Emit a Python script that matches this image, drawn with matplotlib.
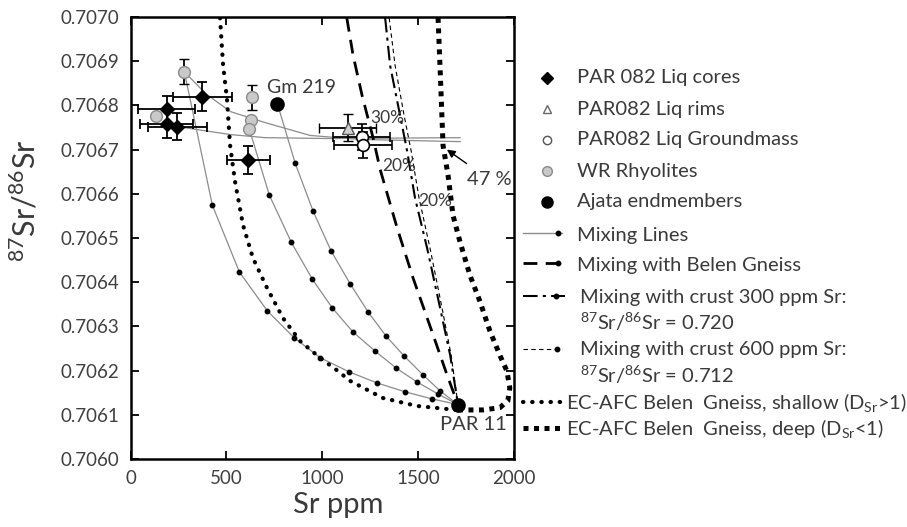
import matplotlib.pyplot as plt
from matplotlib.lines import Line2D

plt.rcParams['font.family'] = ['Lato', 'DejaVu Sans']
plt.rcParams['mathtext.default'] = 'regular'

# ---- data ----
# PAR 082 liquid cores (black diamonds)
cores_x = [375, 188, 188, 245, 615]
cores_y = [0.706820, 0.706791, 0.706757, 0.706752, 0.706676]
cores_xerr = [154, 150, 140, 153, 112]
cores_yerr = [0.000032, 0.000030, 0.000030, 0.000030, 0.000032]

# PAR082 liquid rims (triangle)
rims_x = [1132]
rims_y = [0.706750]
rims_xerr = [148]
rims_yerr = [0.000030]

# PAR082 groundmass (open circles)
gm_x = [1205, 1212]
gm_y = [0.706728, 0.706710]
gm_xerr = [150, 150]
gm_yerr = [0.000030, 0.000030]

# whole rock rhyolites (grey circles)
wr_x = [281, 135, 635, 630, 620]
wr_y = [0.706876, 0.706775, 0.706818, 0.706766, 0.706746]
wr_yerr = [0.000028, 0, 0.000028, 0, 0]

# Ajata endmembers: Gm 219 and PAR 11
aj_x = [766, 1708]
aj_y = [0.706804, 0.706123]

# mixing lines towards PAR 11 (dotted increments)
mix1_x = [281, 427, 568, 714, 854, 990, 1141, 1286, 1432, 1573, 1708]
mix1_y = [0.706876, 0.706574, 0.706423, 0.706335, 0.706274, 0.706229,
          0.706197, 0.706172, 0.706152, 0.706136, 0.706123]
mix2_x = [620, 724, 839, 948, 1052, 1161, 1276, 1385, 1495, 1604, 1708]
mix2_y = [0.706746, 0.706597, 0.706490, 0.706407, 0.706342, 0.706287,
          0.706244, 0.706206, 0.706174, 0.706147, 0.706123]
mix3_x = [766, 859, 953, 1047, 1146, 1240, 1333, 1427, 1526, 1615, 1708]
mix3_y = [0.706804, 0.706669, 0.706560, 0.706470, 0.706396, 0.706332,
          0.706278, 0.706233, 0.706190, 0.706154, 0.706123]

# near-flat mixing lines to the 47 % point
mixA_x = [281, 391, 521, 703, 937, 1198, 1719]
mixA_y = [0.706876, 0.706827, 0.706786, 0.706761, 0.706732, 0.706723, 0.706718]
mixB_x = [245, 521, 703, 1042, 1719]
mixB_y = [0.706752, 0.706734, 0.706727, 0.706725, 0.706727]

# mixing with Belen Gneiss
belen_x = [1128, 1161, 1208, 1266, 1302, 1391, 1474, 1578, 1651, 1708]
belen_y = [0.706998, 0.706913, 0.706822, 0.706725, 0.706655, 0.706522,
           0.706409, 0.706281, 0.706190, 0.706123]

# mixing with crust 300 ppm Sr
c300_x = [1328, 1354, 1406, 1443, 1484, 1547, 1615, 1667, 1708]
c300_y = [0.706998, 0.706890, 0.706777, 0.706696, 0.706590, 0.706477,
          0.706341, 0.706235, 0.706123]

# mixing with crust 600 ppm Sr
c600_x = [1349, 1380, 1427, 1464, 1505, 1562, 1625, 1672, 1708]
c600_y = [0.706998, 0.706890, 0.706777, 0.706696, 0.706590, 0.706477,
          0.706341, 0.706235, 0.706123]

# EC-AFC Belen Gneiss, shallow
shal_x = [467, 483, 503, 519, 545, 587, 639, 712, 795, 884, 988, 1082,
          1144, 1316, 1493, 1701]
shal_y = [0.706998, 0.706890, 0.706815, 0.706711, 0.706628, 0.706529,
          0.706454, 0.706387, 0.706319, 0.706267, 0.706229, 0.706199,
          0.706177, 0.706138, 0.706120, 0.706111]

# EC-AFC Belen Gneiss, deep
deep_x = [1604, 1614, 1624, 1630, 1656, 1682, 1718, 1770, 1822, 1874, 1926,
          1963, 1978, 1968, 1926, 1838, 1755, 1703]
deep_y = [0.706998, 0.706890, 0.706777, 0.706709, 0.706642, 0.706551,
          0.706492, 0.706416, 0.706357, 0.706290, 0.706235, 0.706199,
          0.706161, 0.706132, 0.706116, 0.706111, 0.706111, 0.706111]

W, H = 907, 527
fig = plt.figure(figsize=(W / 100, H / 100), dpi=100)
ax = fig.add_axes([130.5 / W, 1 - 459 / H, (514 - 130.5) / W, (459 - 17) / H])

txt_col = '#3a3a3a'
grey = '#8c8c8c'

# curves
for mx, my in [(mix1_x, mix1_y), (mix2_x, mix2_y), (mix3_x, mix3_y)]:
    ax.plot(mx, my, color=grey, lw=0.9, zorder=2)
    ax.plot(mx[1:-1], my[1:-1], 'o', color='black', ms=3.2, zorder=3)
ax.plot(mixA_x, mixA_y, color=grey, lw=0.9, zorder=2)
ax.plot(mixB_x, mixB_y, color=grey, lw=0.9, zorder=2)

ax.plot(belen_x, belen_y, color='black', lw=2.0, ls=(0, (5, 3)), zorder=2)
ax.plot(c300_x, c300_y, color='black', lw=1.5, ls=(0, (7, 2.5, 1.5, 2.5)), zorder=2)
ax.plot(c600_x, c600_y, color='black', lw=0.8, ls=(0, (4, 3)), zorder=2)
ax.plot(shal_x, shal_y, color='black', lw=3.0, ls=(0, (0.1, 2.1)),
        dash_capstyle='round', zorder=2)
ax.plot(deep_x, deep_y, color='black', lw=3.6, ls=(0, (1, 1.1)), zorder=2)

# data points with error bars
ekw = dict(ecolor='black', elinewidth=1.3, capsize=3.5, capthick=1.3, ls='none', zorder=4)
ax.errorbar(wr_x, wr_y, yerr=wr_yerr, marker='o', ms=8.5, mfc='#c9c9c9',
            mec='#8a8a8a', mew=1.0, **ekw)
ax.errorbar(cores_x, cores_y, xerr=cores_xerr, yerr=cores_yerr, marker='D',
            ms=7, mfc='black', mec='black', **ekw)
ax.errorbar(rims_x, rims_y, xerr=rims_xerr, yerr=rims_yerr, marker='^', ms=8,
            mfc='#d0d0d0', mec='#555555', mew=1.0, **ekw)
ax.errorbar(gm_x, gm_y, xerr=gm_xerr, yerr=gm_yerr, marker='o', ms=8.5,
            mfc='white', mec='black', mew=1.2, **ekw)
ax.plot(aj_x, aj_y, 'o', color='black', ms=9.5, zorder=5)

# annotations
ax.text(713, 0.706840, 'Gm 219', fontsize=14, color=txt_col, va='center')
ax.text(1612, 0.706077, 'PAR 11', fontsize=14.5, color=txt_col, va='center')
ax.text(1250, 0.706772, '30%', fontsize=12.5, color=txt_col, va='center')
ax.text(1312, 0.706663, '20%', fontsize=12.5, color=txt_col, va='center')
ax.text(1500, 0.706583, '20%', fontsize=12.5, color=txt_col, va='center')
ax.annotate('47 %', xy=(1650, 0.706700), xytext=(1755, 0.706632),
            fontsize=14.5, color=txt_col, va='center',
            arrowprops=dict(arrowstyle='-|>', color='black', lw=1.0,
                            shrinkA=6, shrinkB=0, mutation_scale=12))

ax.set_xlim(0, 2000)
ax.set_ylim(0.7060, 0.7070)
ax.set_xticks([0, 500, 1000, 1500, 2000])
ax.set_yticks([0.7060 + 0.0001 * i for i in range(11)])
ax.set_yticklabels([f'{0.7060 + 0.0001 * i:.4f}' for i in range(11)])
ax.tick_params(direction='in', length=6, width=1.3, top=True, right=True,
               labelsize=13.5, labelcolor='#404040', pad=8)
for s in ax.spines.values():
    s.set_linewidth(1.8)

fig.text(25 / W, 1 - 201 / H, '$^{87}$Sr/$^{86}$Sr', rotation=90, fontsize=22,
         color=txt_col, ha='center', va='center')
fig.text(338 / W, 1 - 505 / H, 'Sr ppm', fontsize=21, color=txt_col,
         ha='center', va='center')


# ---- hand-built legend on the right ----
def fpt(x, y):
    return x / W, 1 - y / H


def leg_marker(x, y, **kw):
    fx, fy = fpt(x, y)
    fig.add_artist(Line2D([fx], [fy], transform=fig.transFigure, ls='none', **kw))


def leg_line(x0, x1, y, dot=None, **kw):
    fx0, fy = fpt(x0, y)
    fx1, _ = fpt(x1, y)
    fig.add_artist(Line2D([fx0, fx1], [fy, fy], transform=fig.transFigure, **kw))
    if dot is not None:
        leg_marker(dot, y, marker='o', color='black', ms=3.2)


def leg_text(x, y, s):
    fx, fy = fpt(x, y)
    fig.text(fx, fy, s, fontsize=14.5, color=txt_col, va='center', ha='left')


leg_marker(547, 78, marker='D', ms=6, mfc='black', mec='black')
leg_text(577, 78, 'PAR 082 Liq cores')
leg_marker(547, 109, marker='^', ms=6, mfc='white', mec='#666666', mew=1.0)
leg_text(577, 109, 'PAR082 Liq rims')
leg_marker(547, 140, marker='o', ms=6, mfc='white', mec='#555555', mew=1.0)
leg_text(577, 140, 'PAR082 Liq Groundmass')
leg_marker(547, 171, marker='o', ms=7, mfc='#c9c9c9', mec='#8a8a8a', mew=1.0)
leg_text(577, 171, 'WR Rhyolites')
leg_marker(547, 202, marker='o', ms=8, mfc='black', mec='black')
leg_text(577, 202, 'Ajata endmembers')

leg_line(523, 562, 233, dot=558, color=grey, lw=1.0)
leg_text(577, 235, 'Mixing Lines')
leg_line(523, 562, 263, dot=558, color='black', lw=2.0, ls=(0, (5, 3)))
leg_text(577, 265, 'Mixing with Belen Gneiss')
leg_line(523, 565, 296, dot=556, color='black', lw=1.5, ls=(0, (7, 2.5, 1.5, 2.5)))
leg_text(580, 297, 'Mixing with crust 300 ppm Sr:')
leg_text(580, 322, '$^{87}$Sr/$^{86}$Sr = 0.720')
leg_line(523, 562, 349, dot=557, color='black', lw=0.8, ls=(0, (4, 3)))
leg_text(580, 350, 'Mixing with crust 600 ppm Sr:')
leg_text(580, 375, '$^{87}$Sr/$^{86}$Sr = 0.712')
leg_line(523, 563, 402, color='black', lw=3.0, ls=(0, (0.1, 2.1)),
         dash_capstyle='round')
leg_text(566, 402, 'EC-AFC Belen  Gneiss, shallow (D$_{Sr}$>1)')
leg_line(523, 563, 428, color='black', lw=3.6, ls=(0, (1, 1.1)))
leg_text(566, 428, 'EC-AFC Belen  Gneiss, deep (D$_{Sr}$<1)')

plt.savefig('out.png', dpi=100)
